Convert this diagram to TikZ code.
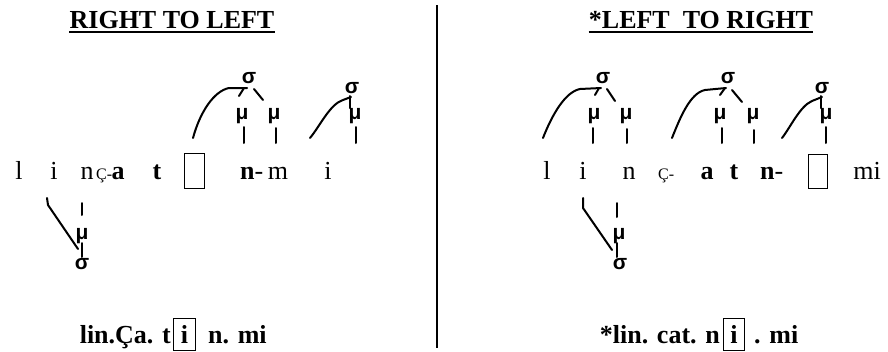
\documentclass[tikz,border=0pt]{standalone}
\usepackage{fontspec}
\setmainfont{Liberation Serif}
\newfontfamily\glyphfont{Liberation Sans}
\begin{document}
\begin{tikzpicture}[x=1pt,y=-1pt,
  conn/.style={line width=2pt, line cap=round, line join=round},
  txt/.style={inner sep=0pt, anchor=base, font=\fontsize{26}{30}\selectfont},
  btxt/.style={inner sep=0pt, anchor=base, font=\fontsize{26}{30}\selectfont\bfseries},
  smallc/.style={inner sep=0pt, anchor=base west, font=\fontsize{16}{20}\selectfont},
  sym/.style={inner sep=0pt, anchor=base, font=\glyphfont\bfseries\fontsize{21}{26}\selectfont},
  gapbox/.style={draw, line width=1.1pt, inner sep=0pt, anchor=north west},
  title/.style={inner sep=0pt, anchor=base, font=\fontsize{26}{30}\selectfont\bfseries},
  gloss/.style={inner sep=0pt, font=\fontsize{26}{30}\selectfont\bfseries}]
\useasboundingbox (0,0) rectangle (888,351);

% divider between the two panels
\coordinate (divtop) at (437,5);
\coordinate (divbot) at (437,348);
\draw[line width=1.2pt] (divtop) -- (divbot);

% ---------- titles ----------
\node[title] (tL) at (172,28) {RIGHT TO LEFT};
\draw[line width=1.8pt] ([yshift=-4pt]tL.base west) -- ([yshift=-4pt]tL.base east);
\node[title] (tR) at (701,28) {*LEFT\ \ TO RIGHT};
\draw[line width=1.8pt] ([yshift=-4pt]tR.base west) -- ([yshift=-4pt]tR.base east);

% ---------- left panel: segment row ----------
\node[txt]  (l1) at (19,179) {l};
\node[txt]  (i1) at (54,179) {i};
\node[txt]  (n1) at (87,179) {n};
\node[smallc] (c1) at (96,179) {Ç-};
\node[btxt] (a1) at (118,179) {a};
\node[btxt] (t1) at (157,179) {t};
\node[gapbox, minimum width=20pt, minimum height=35pt] (g1) at (184,153) {};
\node[inner sep=0pt, anchor=base west, font=\fontsize{26}{30}\selectfont] (nb1) at (240,179) {\textbf{n}-};
\node[txt]  (m1) at (278,179) {m};
\node[txt]  (ii1) at (328,179) {i};

% left panel: upper prosodic structure
\node[sym] (sA) at (249,83) {σ};
\node[sym] (muA1) at (242,119) {μ};
\node[sym] (muA2) at (274,119) {μ};
\node[sym] (sB) at (352,93) {σ};
\node[sym] (muB) at (355,119) {μ};

\coordinate (sAl) at (247,88);
\coordinate (sAk) at (229,88);
\coordinate (sAend) at (193,138);
\draw[conn] (sAl) -- (sAk) .. controls (214,91) and (200,112) .. (sAend);
\coordinate (sAm1) at (244,88);
\coordinate (muA1t) at (239,96);
\draw[conn] (sAm1) -- (muA1t);
\coordinate (sAm2) at (254,89);
\coordinate (muA2t) at (263,100);
\draw[conn] (sAm2) -- (muA2t);
\coordinate (muA1b) at (244,127);
\coordinate (muA1e) at (244,143);
\draw[conn] (muA1b) -- (muA1e);
\coordinate (muA2b) at (276,128);
\coordinate (muA2e) at (276,143);
\draw[conn] (muA2b) -- (muA2e);

\coordinate (sBl) at (351,97);
\coordinate (sBk) at (343,100);
\coordinate (sBend) at (310,138);
\draw[conn] (sBl) -- (sBk) .. controls (330,104) and (320,126) .. (sBend);
\coordinate (sBm) at (350,96);
\coordinate (muBt) at (350,108);
\draw[conn] (sBm) -- (muBt);
\coordinate (muBb) at (356,127);
\coordinate (muBe) at (356,143);
\draw[conn] (muBb) -- (muBe);

% left panel: lower structure
\node[sym] (muC) at (82,239) {μ};
\node[sym] (sC) at (82,269) {σ};
\coordinate (iC) at (47,198);
\coordinate (iCk) at (48,205);
\coordinate (iCe) at (78,249);
\draw[conn] (iC) -- (iCk) -- (iCe);
\coordinate (muCt) at (82,203);
\coordinate (muCu) at (82,215);
\draw[conn] (muCt) -- (muCu);
\coordinate (muCb) at (82,243);
\coordinate (sCt) at (82,257);
\draw[conn] (muCb) -- (sCt);

% ---------- right panel: segment row ----------
\node[txt]  (l2) at (547,179) {l};
\node[txt]  (i2) at (583,179) {i};
\node[txt]  (n2) at (629,179) {n};
\node[smallc] (c2) at (658,179) {Ç-};
\node[btxt] (a2) at (707,179) {a};
\node[btxt] (t2) at (734,179) {t};
\node[inner sep=0pt, anchor=base west, font=\fontsize{26}{30}\selectfont] (nb2) at (760,179) {\textbf{n}-};
\node[gapbox, minimum width=19pt, minimum height=34pt] (g2) at (808,154) {};
\node[txt]  (mi2) at (867,179) {mi};

% right panel: upper prosodic structure
\node[sym] (s1) at (603,83) {σ};
\node[sym] (mu11) at (594,119) {μ};
\node[sym] (mu12) at (626,119) {μ};
\node[sym] (s2) at (728,83) {σ};
\node[sym] (mu21) at (720,119) {μ};
\node[sym] (mu22) at (753,119) {μ};
\node[sym] (s3) at (822,93) {σ};
\node[sym] (mu31) at (826,119) {μ};

\coordinate (s1l) at (601,88);
\coordinate (s1k) at (580,89);
\coordinate (s1end) at (543,138);
\draw[conn] (s1l) -- (s1k) .. controls (565,92) and (552,115) .. (s1end);
\coordinate (s1a) at (599,88);
\coordinate (mu11t) at (595,95);
\draw[conn] (s1a) -- (mu11t);
\coordinate (s1b) at (607,89);
\coordinate (mu12t) at (615,101);
\draw[conn] (s1b) -- (mu12t);
\coordinate (mu11b) at (593,128);
\coordinate (mu11e) at (593,143);
\draw[conn] (mu11b) -- (mu11e);
\coordinate (mu12b) at (627,129);
\coordinate (mu12e) at (627,143);
\draw[conn] (mu12b) -- (mu12e);

\coordinate (s2l) at (726,88);
\coordinate (s2k) at (705,90);
\coordinate (s2end) at (672,138);
\draw[conn] (s2l) -- (s2k) .. controls (690,93) and (680,118) .. (s2end);
\coordinate (s2a) at (725,88);
\coordinate (mu21t) at (720,95);
\draw[conn] (s2a) -- (mu21t);
\coordinate (s2b) at (732,90);
\coordinate (mu22t) at (742,102);
\draw[conn] (s2b) -- (mu22t);
\coordinate (mu21b) at (722,128);
\coordinate (mu21e) at (722,143);
\draw[conn] (mu21b) -- (mu21e);
\coordinate (mu22b) at (754,130);
\coordinate (mu22e) at (754,143);
\draw[conn] (mu22b) -- (mu22e);

\coordinate (s3l) at (822,97);
\coordinate (s3k) at (812,101);
\coordinate (s3end) at (782,138);
\draw[conn] (s3l) -- (s3k) .. controls (800,106) and (790,128) .. (s3end);
\coordinate (s3m) at (821,96);
\coordinate (mu31t) at (821,108);
\draw[conn] (s3m) -- (mu31t);
\coordinate (mu31b) at (826,127);
\coordinate (mu31e) at (826,143);
\draw[conn] (mu31b) -- (mu31e);

% right panel: lower structure
\node[sym] (muD) at (619,239) {μ};
\node[sym] (sD) at (620,269) {σ};
\coordinate (iD) at (583,198);
\coordinate (iDk) at (583,208);
\coordinate (iDe) at (612,250);
\draw[conn] (iD) -- (iDk) -- (iDe);
\coordinate (muDt) at (617,203);
\coordinate (muDu) at (617,217);
\draw[conn] (muDt) -- (muDu);
\coordinate (muDb) at (617,243);
\coordinate (sDt) at (617,257);
\draw[conn] (muDb) -- (sDt);

% ---------- syllabified outputs ----------
\node[gloss, anchor=base east] (outL1) at (171,343) {lin.Ça. t};
\node[gapbox, minimum width=22pt, minimum height=32pt, font=\fontsize{26}{30}\selectfont\bfseries] (outLi) at (173,318) {i};
\node[gloss, anchor=base west] (outL2) at (208,343) {n. mi};

\node[gloss, anchor=base east] (outR1) at (720,343) {*lin. cat. n};
\node[gapbox, minimum width=21pt, minimum height=32pt, font=\fontsize{26}{30}\selectfont\bfseries] (outRi) at (723,318) {i};
\node[gloss, anchor=base west] (outR2) at (754,343) {. mi};
\end{tikzpicture}
\end{document}
